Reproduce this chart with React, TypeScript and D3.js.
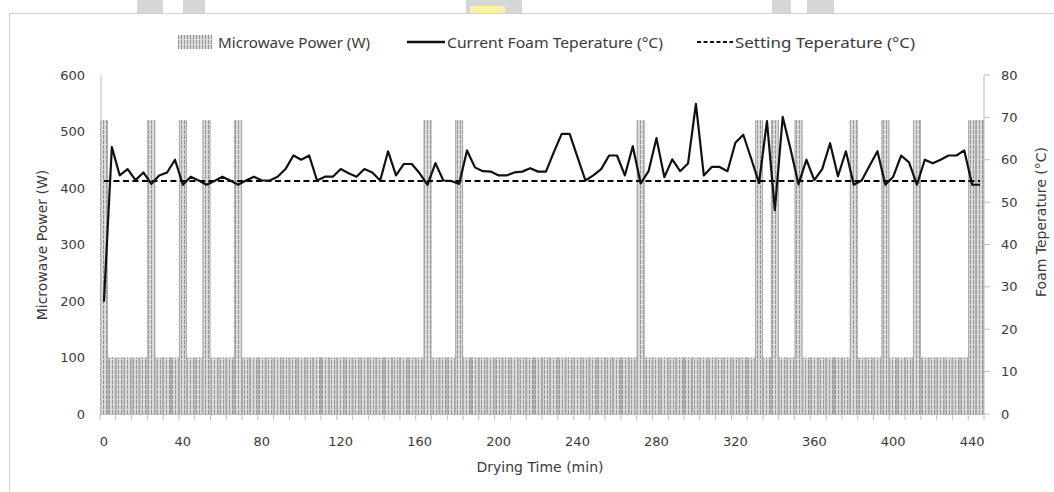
import React from "react";
import * as d3 from "d3";

// Categories: drying time (min)
const times: number[] = [
  0, 4, 8, 12, 16, 20, 24, 28, 32, 36,
  40, 44, 48, 52, 56, 60, 64, 68, 72, 76,
  80, 84, 88, 92, 96, 100, 104, 108, 112, 116,
  120, 124, 128, 132, 136, 140, 144, 148, 152, 156,
  160, 164, 168, 172, 176, 180, 184, 188, 192, 196,
  200, 204, 208, 212, 216, 220, 224, 228, 232, 236,
  240, 244, 248, 252, 256, 260, 264, 268, 272, 276,
  280, 284, 288, 292, 296, 300, 304, 308, 312, 316,
  320, 324, 328, 332, 336, 340, 344, 348, 352, 356,
  360, 364, 368, 372, 376, 380, 384, 388, 392, 396,
  400, 404, 408, 412, 416, 420, 424, 428, 432, 436,
  440, 444,
];

// Microwave power (W)
const microwavePower: number[] = [
  520, 100, 100, 100, 100, 100, 520, 100, 100, 100,
  520, 100, 100, 520, 100, 100, 100, 520, 100, 100,
  100, 100, 100, 100, 100, 100, 100, 100, 100, 100,
  100, 100, 100, 100, 100, 100, 100, 100, 100, 100,
  100, 520, 100, 100, 100, 520, 100, 100, 100, 100,
  100, 100, 100, 100, 100, 100, 100, 100, 100, 100,
  100, 100, 100, 100, 100, 100, 100, 100, 520, 100,
  100, 100, 100, 100, 100, 100, 100, 100, 100, 100,
  100, 100, 100, 520, 100, 520, 100, 100, 520, 100,
  100, 100, 100, 100, 100, 520, 100, 100, 100, 520,
  100, 100, 100, 520, 100, 100, 100, 100, 100, 100,
  520, 520,
];

// Current foam temperature (°C)
const foamTemp: number[] = [
  26.5, 63, 56.3, 57.8, 55.2, 57, 54.3, 56.3, 57, 60,
  54.1, 56, 55.1, 54.1, 55, 56, 55.1, 54.1, 55.1, 56,
  55.1, 55.1, 56, 57.8, 61, 60, 61, 55.1, 56, 56,
  57.8, 56.8, 56, 57.8, 57, 55.1, 62, 56.3, 59, 59,
  56.8, 54.1, 59.2, 55.1, 55, 54.3, 62.2, 58.2, 57.3, 57.2,
  56.3, 56.3, 57, 57.2, 58, 57.2, 57.2, 61.8, 66.1, 66.1,
  60.6, 55.1, 56.3, 57.8, 61, 61, 56.3, 63.2, 54.4, 57.3,
  65.1, 55.9, 60.1, 57.3, 59.1, 73.2, 56.3, 58.3, 58.3, 57.3,
  64, 65.9, 60.3, 54.5, 69.1, 48.1, 70.1, 62.4, 54.2, 60,
  55.2, 57.8, 63.9, 56.1, 62, 54.1, 55.1, 58.6, 62, 54.1,
  56, 61, 59.4, 54.1, 60, 59.2, 60, 61, 61, 62.2,
  54.1, 54.1,
];

// Setting temperature (°C)
const settingTemp: number[] = times.map(() => 55);

const xTickLabels: number[] = [0, 40, 80, 120, 160, 200, 240, 280, 320, 360, 400, 440];
const powerTicks: number[] = [0, 100, 200, 300, 400, 500, 600];
const tempTicks: number[] = [0, 10, 20, 30, 40, 50, 60, 70, 80];

const W = 1054;
const H = 492;
const plotLeft = 100;
const plotRight = 984;
const plotTop = 75;
const plotBottom = 414;

const FONT = "'DejaVu Sans', Verdana, sans-serif";
const LEGEND_FONT = "'Noto Sans', 'Open Sans', sans-serif";
const TEXT = "#3a3a3a";
const AXIS = "#bdbdbd";

export default function App() {
  const x = d3.scaleLinear().domain([-2, 446]).range([plotLeft, plotRight]);
  const yP = d3.scaleLinear().domain([0, 600]).range([plotBottom, plotTop]);
  const yT = d3.scaleLinear().domain([0, 80]).range([plotBottom, plotTop]);
  const bw = x(4) - x(0);

  const tempLine = d3
    .line<number>()
    .x((_, i) => x(times[i]))
    .y((d) => yT(d));

  const minorTicks = d3.range(-2, 447, 8);

  return (
    <>
      <style>{"body{margin:0}"}</style>
      <svg
        width={W}
        height={H}
        style={{ display: "block", background: "#fff" }}
        xmlns="http://www.w3.org/2000/svg"
      >
        <defs>
          <pattern id="mw" patternUnits="userSpaceOnUse" width={3} height={5}>
            <rect width={3} height={5} fill="#dadada" />
            <rect x={1} y={0} width={1} height={4} fill="#959595" />
          </pattern>
        </defs>

        {/* page artifacts at top */}
        <rect x={137} y={0} width={26} height={13} fill="#d6d6d6" />
        <rect x={183} y={0} width={22} height={13} fill="#d6d6d6" />
        <rect x={466} y={0} width={56} height={13} fill="#d6d6d6" />
        <rect x={470} y={6} width={35} height={7} fill="#fbf1a6" />
        <rect x={772} y={0} width={19} height={13} fill="#d6d6d6" />
        <rect x={807} y={0} width={27} height={13} fill="#d6d6d6" />
        <line x1={9} x2={W} y1={13.5} y2={13.5} stroke="#cfcfcf" />
        <line x1={9.5} x2={9.5} y1={13.5} y2={H} stroke="#cfcfcf" />

        {/* microwave power bars */}
        {microwavePower.map((p, i) => {
          const x0 = x(times[i]) - bw / 2;
          const y0 = yP(p);
          return (
            <g key={"b" + i}>
              <rect x={x0} y={y0} width={bw} height={plotBottom - y0} fill="url(#mw)" />
              <line x1={x0 + 0.5} x2={x0 + 0.5} y1={y0} y2={plotBottom} stroke="#a9a9a9" strokeWidth={1} />
              <line x1={x0 + bw - 0.5} x2={x0 + bw - 0.5} y1={y0} y2={plotBottom} stroke="#a9a9a9" strokeWidth={1} />
            </g>
          );
        })}

        {/* axes */}
        <line x1={plotLeft + 1} x2={plotLeft + 1} y1={plotTop} y2={plotBottom} stroke={AXIS} />
        <line x1={plotRight} x2={plotRight} y1={plotTop} y2={plotBottom} stroke={AXIS} />
        <line x1={plotLeft} x2={plotRight} y1={plotBottom + 0.5} y2={plotBottom + 0.5} stroke={AXIS} />
        {minorTicks.map((t) => (
          <line key={"mt" + t} x1={x(t)} x2={x(t)} y1={plotBottom} y2={plotBottom + 6} stroke={AXIS} />
        ))}
        {tempTicks.map((t) => (
          <line key={"rt" + t} x1={plotRight} x2={plotRight + 6} y1={yT(t)} y2={yT(t)} stroke={AXIS} />
        ))}

        {/* setting temperature */}
        <path
          d={tempLine(settingTemp) || ""}
          fill="none"
          stroke="#000"
          strokeWidth={2}
          strokeDasharray="6,3.5"
        />
        {/* current foam temperature */}
        <path
          d={tempLine(foamTemp) || ""}
          fill="none"
          stroke="#111"
          strokeWidth={2.2}
          strokeLinejoin="round"
        />

        {/* tick labels */}
        {xTickLabels.map((t) => (
          <text key={"xl" + t} x={x(t)} y={441} textAnchor="middle" dominantBaseline="central"
            fontFamily={FONT} fontSize={13} fill={TEXT}>
            {t}
          </text>
        ))}
        {powerTicks.map((p) => (
          <text key={"pl" + p} x={85} y={yP(p)} textAnchor="end" dominantBaseline="central"
            fontFamily={FONT} fontSize={13} fill={TEXT}>
            {p}
          </text>
        ))}
        {tempTicks.map((t) => (
          <text key={"tl" + t} x={1001} y={yT(t)} textAnchor="start" dominantBaseline="central"
            fontFamily={FONT} fontSize={13} fill={TEXT}>
            {t}
          </text>
        ))}

        {/* axis titles */}
        <text x={540} y={467} textAnchor="middle" dominantBaseline="central"
          fontFamily={FONT} fontSize={14} fill={TEXT}>
          Drying Time (min)
        </text>
        <text transform="translate(42,245) rotate(-90)" textAnchor="middle" dominantBaseline="central"
          fontFamily={FONT} fontSize={14} fill={TEXT}>
          Microwave Power (W)
        </text>
        <text transform="translate(1041,222) rotate(-90)" textAnchor="middle" dominantBaseline="central"
          fontFamily={FONT} fontSize={14} fill={TEXT}>
          Foam Teperature (°C)
        </text>

        {/* legend */}
        <rect x={178} y={35} width={34} height={14} fill="url(#mw)" />
        <text x={218} y={42} dominantBaseline="central" fontFamily={LEGEND_FONT} fontSize={14}
          fill={TEXT} textLength={152} lengthAdjust="spacingAndGlyphs">
          Microwave Power (W)
        </text>
        <line x1={407} x2={445} y1={42} y2={42} stroke="#111" strokeWidth={2.5} />
        <text x={447} y={42} dominantBaseline="central" fontFamily={LEGEND_FONT} fontSize={14}
          fill={TEXT} textLength={216} lengthAdjust="spacingAndGlyphs">
          Current Foam Teperature (°C)
        </text>
        <line x1={697} x2={733} y1={42} y2={42} stroke="#111" strokeWidth={2} strokeDasharray="4,2.5" />
        <text x={735} y={42} dominantBaseline="central" fontFamily={LEGEND_FONT} fontSize={14}
          fill={TEXT} textLength={180} lengthAdjust="spacingAndGlyphs">
          Setting Teperature (°C)
        </text>
      </svg>
    </>
  );
}
